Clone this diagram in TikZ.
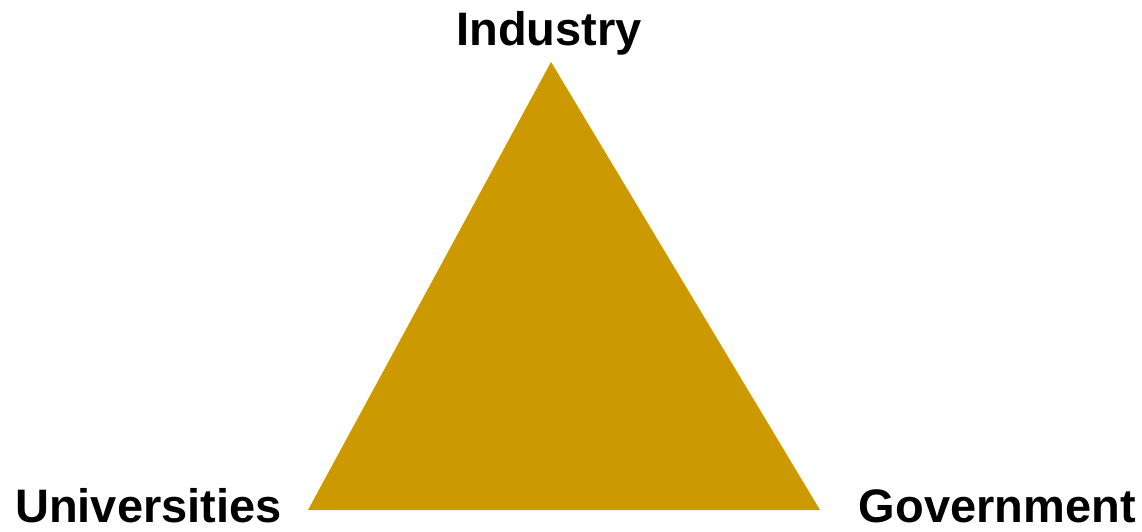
\documentclass[tikz,border=0pt]{standalone}
\usepackage{fontspec}
\setmainfont{Liberation Sans}
\usepackage{xcolor}
\definecolor{gold}{HTML}{CC9900}

\begin{document}
\begin{tikzpicture}[x=1pt,y=-1pt]
    \useasboundingbox (0,0) rectangle (1142,531);
    \tikzset{label/.style={inner sep=0pt, font=\fontsize{47}{56}\selectfont\bfseries}}

    \coordinate (top) at (551,62);
    \coordinate (left) at (308,510);
    \coordinate (right) at (820,510);

    \fill[gold] (top) -- (left) -- (right) -- cycle;

    \node[label, anchor=base] (industry) at (549,45.5) {Industry};
    \node[label, anchor=base west] (univ) at (15,522) {Universities};
    \node[label, anchor=base east] (gov) at (1136,522) {Government};
\end{tikzpicture}
\end{document}
